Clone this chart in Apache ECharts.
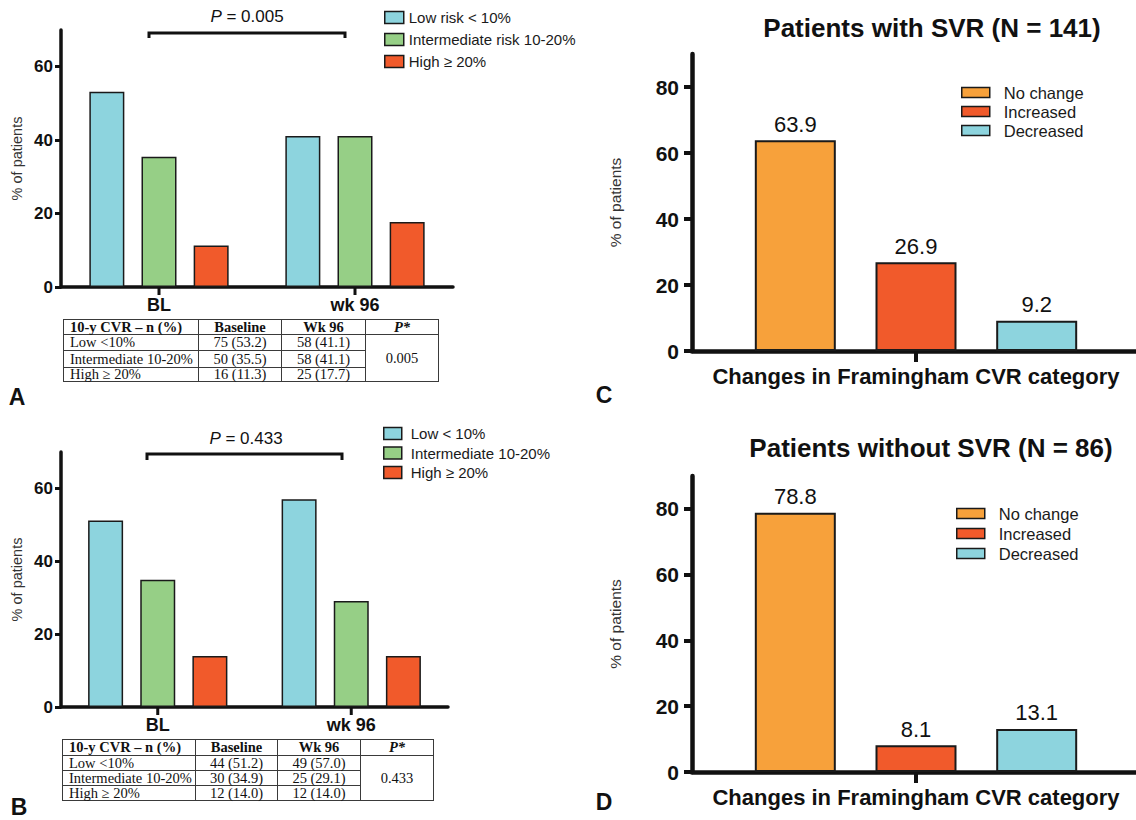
<!DOCTYPE html>
<html>
<head>
<meta charset="utf-8">
<script src="https://cdn.jsdelivr.net/npm/echarts@6/dist/echarts.min.js"></script>
<style>
  html, body { margin: 0; padding: 0; background: #fff; }
  #wrap { position: relative; width: 1136px; height: 820px; overflow: hidden; background: #fff; }
  #chart { position: absolute; left: 0; top: 0; width: 1136px; height: 820px; }
  table.cvr { position: absolute; border-collapse: collapse; table-layout: fixed;
    font-family: "Liberation Serif", "DejaVu Serif", serif; font-size: 14.5px; color: #111;
    border: 1.5px solid #333; }
  table.cvr td { border: 1px solid #3a3a3a; padding: 0; line-height: 13px; white-space: nowrap; text-align: center; }
  table.cvr td.lab { text-align: left; padding-left: 6px; }
  table.cvr tr.hd td { font-weight: bold; }
  table.cvr td.p { font-weight: bold; font-style: italic; }
</style>
</head>
<body>
<div id="wrap">
  <div id="chart"></div>
  <table class="cvr" id="tblA"></table>
  <table class="cvr" id="tblB"></table>
</div>
<script>
// ---------------- data ----------------
const categoriesAB = ['BL', 'wk 96'];
const riskLegendA = ['Low risk < 10%', 'Intermediate risk 10-20%', 'High \u2265 20%'];
const riskLegendB = ['Low < 10%', 'Intermediate 10-20%', 'High \u2265 20%'];
const aLow = [53.2, 41.1];
const aInt = [35.5, 41.1];
const aHigh = [11.3, 17.7];
const bLow = [51.2, 57.0];
const bInt = [34.9, 29.1];
const bHigh = [14.0, 14.0];
const changeLegend = ['No change', 'Increased', 'Decreased'];
const cValues = [63.9, 26.9, 9.2];
const dValues = [78.8, 8.1, 13.1];
const categoryCD = ['Changes in Framingham CVR category'];
const yName = '% of patients';
const yTicksAB = [0, 20, 40, 60];
const yTicksCD = [0, 20, 40, 60, 80];
const pValueA = '0.005';
const pValueB = '0.433';
const titleC = 'Patients with SVR (N = 141)';
const titleD = 'Patients without SVR (N = 86)';
const panelLetters = ['A', 'B', 'C', 'D'];
const tableHeader = ['10-y CVR  \u2013 n (%)', 'Baseline', 'Wk 96', 'P*'];
const tableRowLabels = ['Low <10%', 'Intermediate 10-20%', 'High \u2265 20%'];
const tableABaseline = ['75 (53.2)', '50 (35.5)', '16 (11.3)'];
const tableAWk96 = ['58 (41.1)', '58 (41.1)', '25 (17.7)'];
const tableBBaseline = ['44 (51.2)', '30 (34.9)', '12 (14.0)'];
const tableBWk96 = ['49 (57.0)', '25 (29.1)', '12 (14.0)'];

// ---------------- styles ----------------
const SANS = '"Liberation Sans", Arial, Helvetica, sans-serif';
const riskColors = ['#8DD4DE', '#96CF86', '#F15A2B'];
const changeColors = ['#F7A13B', '#F15A2B', '#8DD4DE'];
const INK = '#111';

// ---------------- tables ----------------
function buildTable(id, box, colW, rowH, baseline, wk96, p) {
  const t = document.getElementById(id);
  t.style.left = box.left + 'px';
  t.style.top = box.top + 'px';
  t.style.width = box.width + 'px';
  let html = '<colgroup>' + colW.map(w => '<col style="width:' + w + 'px">').join('') + '</colgroup>';
  html += '<tr class="hd" style="height:' + rowH[0] + 'px"><td class="lab">' + tableHeader[0] + '</td><td>' +
    tableHeader[1] + '</td><td>' + tableHeader[2] + '</td><td class="p">' + tableHeader[3] + '</td></tr>';
  for (let i = 0; i < tableRowLabels.length; i++) {
    html += '<tr style="height:' + rowH[i + 1] + 'px"><td class="lab">' + tableRowLabels[i] + '</td><td>' +
      baseline[i] + '</td><td>' + wk96[i] + '</td>' +
      (i === 0 ? '<td rowspan="3">' + p + '</td>' : '') + '</tr>';
  }
  t.innerHTML = html;
}
buildTable('tblA', {left: 63, top: 319, width: 375}, [135, 83, 84, 73], [15, 16, 17, 14], tableABaseline, tableAWk96, pValueA);
buildTable('tblB', {left: 62, top: 739, width: 371}, [133, 82, 83, 73], [16, 15, 15, 15], tableBBaseline, tableBWk96, pValueB);

// ---------------- chart ----------------
const chart = echarts.init(document.getElementById('chart'), null, {renderer: 'svg'});

const grids = [
  {left: 61, top: 30, width: 392, height: 257},
  {left: 61, top: 452, width: 387, height: 255},
  {left: 692, top: 54, width: 448, height: 297},
  {left: 692, top: 476, width: 448, height: 296}
];

function catAxis(idx, data, small) {
  return {
    type: 'category', gridIndex: idx, data: data,
    axisLine: {lineStyle: {color: INK, width: small ? 3.5 : 4.5}},
    axisTick: {alignWithLabel: true, interval: 0, length: small ? 7 : 10, lineStyle: {color: INK, width: small ? 3 : 4}},
    axisLabel: small ? {show: true, interval: 0, color: INK, fontFamily: SANS, fontWeight: 'bold', fontSize: 18, margin: 9}
                     : {show: false, interval: 0},
    name: small ? '' : data[0],
    nameLocation: 'middle', nameGap: 14,
    nameTextStyle: {color: INK, fontFamily: SANS, fontWeight: 'bold', fontSize: 22}
  };
}
function valAxis(idx, max, ticks, small) {
  return {
    type: 'value', gridIndex: idx, min: 0, max: max, interval: 20,
    splitLine: {show: false},
    axisLine: {show: true, lineStyle: {color: INK, width: small ? 3.5 : 4.5}},
    axisTick: {show: true, customValues: ticks, length: small ? 6 : 8, lineStyle: {color: INK, width: small ? 3 : 4}},
    axisLabel: {customValues: ticks, color: INK, fontFamily: SANS, fontWeight: 'bold',
      fontSize: small ? 17 : 21, margin: small ? 8 : 13},
    name: yName, nameLocation: 'middle', nameRotate: 90, nameGap: small ? 37 : 69,
    nameTextStyle: {color: '#333', fontFamily: SANS, fontSize: small ? 14.5 : 15.5}
  };
}

const series = [];
const abSets = [[aLow, aInt, aHigh, riskLegendA, 0], [bLow, bInt, bHigh, riskLegendB, 1]];
abSets.forEach(([lo, mid, hi, names, gi]) => {
  [lo, mid, hi].forEach((arr, k) => {
    series.push({
      type: 'bar', name: names[k], xAxisIndex: gi, yAxisIndex: gi, data: arr,
      barWidth: 35, barGap: '49%',
      itemStyle: {color: riskColors[k], borderColor: '#1a1a1a', borderWidth: 1.5}
    });
  });
});
[[cValues, 2], [dValues, 3]].forEach(([vals, gi]) => {
  vals.forEach((v, k) => {
    series.push({
      type: 'bar', name: changeLegend[k], xAxisIndex: gi, yAxisIndex: gi, data: [v],
      barWidth: 81, barGap: '49%',
      itemStyle: {color: changeColors[k], borderColor: '#1a1a1a', borderWidth: 2},
      label: {show: true, position: 'top', distance: 5, color: INK, fontFamily: SANS, fontSize: 22,
        formatter: p => p.value.toFixed(1)}
    });
  });
});

function legendAt(names, left, top, iw, ih, gap, fs, pad) {
  return {
    data: names, orient: 'vertical', left: left, top: top, padding: 0,
    itemWidth: iw, itemHeight: ih, itemGap: gap,
    icon: 'rect', selectedMode: false,
    itemStyle: {borderColor: '#1a1a1a', borderWidth: 1.5},
    textStyle: {color: '#1a1a1a', fontFamily: SANS, fontSize: fs, lineHeight: 15, padding: [0, 0, 0, pad]}
  };
}

function txt(x, y, text, fs, weight) {
  return {
    type: 'text', x: x, y: y,
    style: {text: text, fill: INK, font: (weight || 'normal') + ' ' + fs + 'px ' + SANS,
      textAlign: 'center', textVerticalAlign: 'middle'}
  };
}
function pText(x, y, val) {
  return {
    type: 'text', x: x, y: y,
    style: {text: '{i|P} = ' + val, fill: INK, fontFamily: SANS, fontSize: 17,
      textAlign: 'center', textVerticalAlign: 'middle',
      rich: {i: {fontStyle: 'italic', fontFamily: SANS, fontSize: 17, fill: INK}}}
  };
}
function bracket(x1, x2, y, drop) {
  return {
    type: 'polyline',
    shape: {points: [[x1, y + drop], [x1, y], [x2, y], [x2, y + drop]]},
    style: {stroke: INK, lineWidth: 3, fill: null}
  };
}

const staticGraphics = [
  pText(247, 16, pValueA),
  bracket(149, 345, 33, 5),
  pText(246, 438, pValueB),
  bracket(147, 342, 454, 6),
  txt(932, 28, titleC, 26, 'bold'),
  txt(931, 448, titleD, 26, 'bold'),
  txt(17, 397, panelLetters[0], 23, 'bold'),
  txt(19, 807, panelLetters[1], 23, 'bold'),
  txt(604, 395, panelLetters[2], 23, 'bold'),
  txt(604, 802, panelLetters[3], 23, 'bold')
];

const option = {
  animation: false,
  backgroundColor: '#fff',
  grid: grids.map(g => Object.assign({containLabel: false, outerBoundsMode: 'none'}, g)),
  xAxis: [catAxis(0, categoriesAB, true), catAxis(1, categoriesAB, true),
          catAxis(2, categoryCD, false), catAxis(3, categoryCD, false)],
  yAxis: [valAxis(0, 70, yTicksAB, true), valAxis(1, 70, yTicksAB, true),
          valAxis(2, 90, yTicksCD, false), valAxis(3, 90, yTicksCD, false)],
  legend: [
    legendAt(riskLegendA, 384, 10, 19, 12, 7, 15, 0),
    legendAt(riskLegendB, 383, 426, 18, 12, 4.5, 15, 4),
    legendAt(changeLegend, 961, 84, 28, 10, 2, 16.5, 9),
    legendAt(changeLegend, 956, 505, 28, 10, 3, 16.5, 9)
  ],
  series: series,
  graphic: staticGraphics
};
chart.setOption(option);

// category ticks at category centres, located through the library's own axes
const tickGraphics = [];
[[0, categoriesAB, 7, 3], [1, categoriesAB, 7, 3], [2, categoryCD, 10, 4], [3, categoryCD, 10, 4]].forEach(([i, cats, len, w]) => {
  const y0 = chart.convertToPixel({yAxisIndex: i}, 0);
  cats.forEach(c => {
    const x = chart.convertToPixel({xAxisIndex: i}, c);
    tickGraphics.push({type: 'line', shape: {x1: x, y1: y0, x2: x, y2: y0 + len + 1},
      style: {stroke: INK, lineWidth: w}});
  });
});
chart.setOption({graphic: staticGraphics.concat(tickGraphics)});
</script>
</body>
</html>
